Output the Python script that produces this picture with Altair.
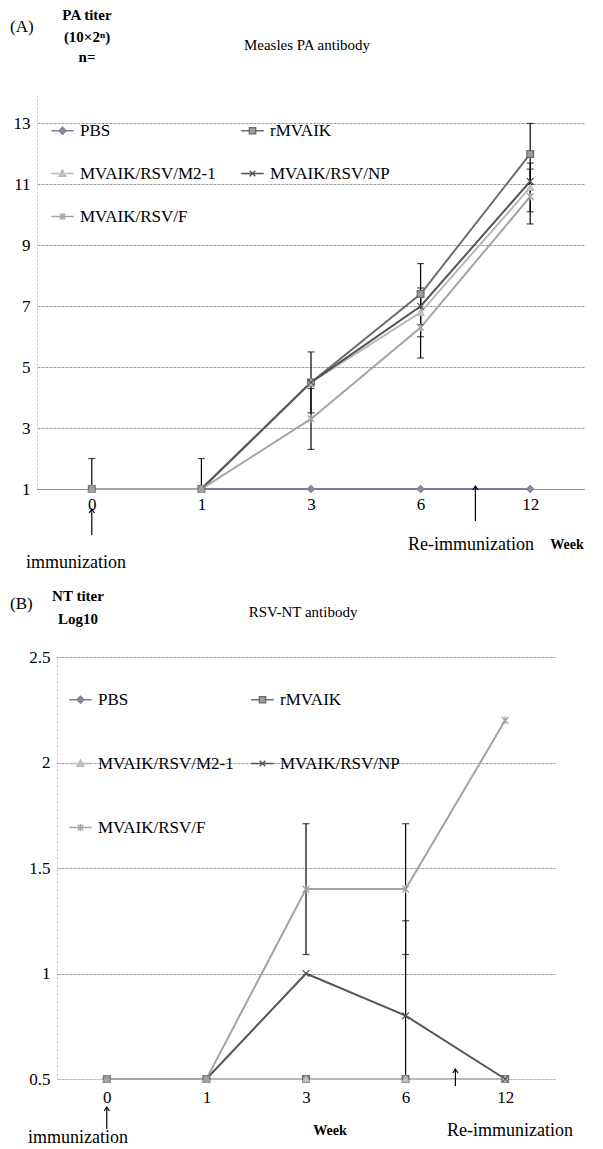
import altair as alt
import pandas as pd

FONT = "Liberation Serif"

weeks = ["0", "1", "3", "6", "12"]
series = ["PBS", "rMVAIK", "MVAIK/RSV/M2-1", "MVAIK/RSV/NP", "MVAIK/RSV/F"]

# Panel A: Measles PA antibody (PA titer = 10x2^n)
pa_pbs = [1, 1, 1, 1, 1]
pa_rmvaik = [1, 1, 4.5, 7.4, 12.0]
pa_m21 = [1, 1, 4.5, 6.8, 10.9]
pa_np = [1, 1, 4.5, 7.0, 11.1]
pa_f = [1, 1, 3.3, 6.3, 10.6]
pa_sd_pbs = [0, 0, 0, 0, 0]
pa_sd_rmvaik = [1, 1, 1, 1, 1]
pa_sd_m21 = [0, 0, 0, 0.8, 0.8]
pa_sd_np = [0, 0, 0, 0, 0]
pa_sd_f = [0, 0, 1, 1, 0.9]
pa_ticks = [1, 3, 5, 7, 9, 11, 13]

# Panel B: RSV-NT antibody (NT titer, Log10)
nt_pbs = [0.5, 0.5, 0.5, 0.5, 0.5]
nt_rmvaik = [0.5, 0.5, 0.5, 0.5, 0.5]
nt_m21 = [0.5, 0.5, 0.5, 0.5, 0.5]
nt_np = [0.5, 0.5, 1.0, 0.8, 0.5]
nt_f = [0.5, 0.5, 1.4, 1.4, 2.2]
nt_sd_pbs = [0, 0, 0, 0, 0]
nt_sd_rmvaik = [0, 0, 0, 0, 0]
nt_sd_m21 = [0, 0, 0, 0, 0]
nt_sd_np = [0, 0, 0, 0.45, 0]
nt_sd_f = [0, 0, 0.31, 0.31, 0]
nt_ticks = [0.5, 1, 1.5, 2, 2.5]

line_colors = ["#7c8096", "#6c6c6c", "#b8b8b8", "#555555", "#a4a4a4"]
marker_fills = ["#8a8ea4", "#9c9c9c", "#c6c6c6", "#555555", "#a4a4a4"]
X_PATH = "M-1,-1L1,1M-1,1L1,-1"
STAR_PATH = "M-1,-1L1,1M-1,1L1,-1M0,-1.2L0,1.2"
plot_shapes = ["diamond", "square", "triangle-up", X_PATH, STAR_PATH]
legend_shapes = [
    "M-3.2,0L-1,0M1,0L3.2,0M0,-1L1,0L0,1L-1,0Z",
    "M-3.2,0L-0.9,0M0.9,0L3.2,0M-0.9,-0.9L0.9,-0.9L0.9,0.9L-0.9,0.9Z",
    "M-3.2,0L-1,0M1,0L3.2,0M0,-1L1,0.8L-1,0.8Z",
    "M-3.2,0L3.2,0M-0.8,-0.8L0.8,0.8M-0.8,0.8L0.8,-0.8",
    "M-3.2,0L3.2,0M-0.8,-0.8L0.8,0.8M-0.8,0.8L0.8,-0.8M0,-1L0,1",
]

label_expr = "[" + ",".join("'%s'" % w for w in weeks) + "][datum.value]"
one = pd.DataFrame({"k": [0]})


def build_df(vals, sds):
    rows = []
    for s, v, sd in zip(series, vals, sds):
        for i, (w, y) in enumerate(zip(weeks, v)):
            rows.append({"idx": i, "week": w, "series": s, "value": y,
                         "sd": sd[i], "lo": y - sd[i], "hi": y + sd[i]})
    return pd.DataFrame(rows)


def text(t, x, y, size=17, bold=False, align="center"):
    return alt.Chart(one).mark_text(
        text=t, font=FONT, fontSize=size, fontWeight="bold" if bold else "normal",
        align=align, baseline="middle", color="black"
    ).encode(x=x, y=y)


def arrow(xd, y_tip, y_tail):
    shaft = alt.Chart(one).mark_rule(color="black", strokeWidth=1.2).encode(
        x=alt.datum(xd), y=alt.value(y_tip), y2=alt.value(y_tail))
    head = alt.Chart(one).mark_point(
        shape="M-1,1.5L0,0L1,1.5", filled=False, size=28, color="black",
        strokeWidth=1.2, opacity=1).encode(x=alt.datum(xd), y=alt.value(y_tip))
    return [shaft, head]


def panel(vals, sds, ydom, yticks, w, h, xrange, yoffset, xdom_color, xdom_dash, yfmt,
          lpad, leg, extras):
    df = build_df(vals, sds)
    err = df[df["sd"] > 0]
    xaxis = alt.Axis(values=list(range(len(weeks))), labelExpr=label_expr, title=None,
                     grid=False, ticks=False, domainColor=xdom_color, domainDash=xdom_dash,
                     domainWidth=1.2, labelFont=FONT, labelFontSize=17, labelColor="black",
                     labelPadding=lpad)
    yaxis = alt.Axis(values=yticks, title=None, grid=True, gridColor="#9c9c9c",
                     gridDash=[3, 1], gridWidth=1, ticks=False, domainColor="#c4c4c4",
                     domainDash=[2, 2], labelFont=FONT, labelFontSize=17, labelColor="black",
                     labelPadding=7, format=yfmt, offset=yoffset)
    xs = alt.Scale(domain=[-0.5, len(weeks) - 0.5], range=xrange, nice=False, zero=False)
    ysc = alt.Scale(domain=ydom, nice=False, zero=False)
    X = alt.X("idx:Q", scale=xs, axis=xaxis)
    Y = alt.Y("value:Q", scale=ysc, axis=yaxis)

    lines = alt.Chart(df).mark_line(strokeWidth=2).encode(
        x=X, y=Y,
        color=alt.Color("series:N", scale=alt.Scale(domain=series, range=line_colors), legend=None),
        detail="series:N")
    rules = alt.Chart(err).mark_rule(color="black", strokeWidth=1.2, clip=True).encode(
        x=alt.X("idx:Q"), y=alt.Y("lo:Q"), y2="hi:Q")
    cap_lo = alt.Chart(err).mark_tick(color="black", orient="horizontal", size=7,
                                      thickness=1.2, clip=True).encode(
        x=alt.X("idx:Q"), y=alt.Y("lo:Q"))
    cap_hi = alt.Chart(err).mark_tick(color="black", orient="horizontal", size=7,
                                      thickness=1.2, clip=True).encode(
        x=alt.X("idx:Q"), y=alt.Y("hi:Q"))
    points = alt.Chart(df).mark_point(filled=True, size=45, strokeWidth=1.3, opacity=1).encode(
        x=X, y=Y,
        fill=alt.Fill("series:N", scale=alt.Scale(domain=series, range=marker_fills), legend=None),
        stroke=alt.Stroke("series:N", scale=alt.Scale(domain=series, range=line_colors), legend=None),
        shape=alt.Shape("series:N", scale=alt.Scale(domain=series, range=plot_shapes), legend=None))

    lg = alt.Legend(orient="none", legendX=leg["x"], legendY=leg["y"], columns=2,
                    direction="horizontal",
                    columnPadding=leg["colpad"], rowPadding=leg["rowpad"], title=None,
                    labelFont=FONT, labelFontSize=17, labelColor="black",
                    symbolSize=49, symbolStrokeWidth=1.4, labelOffset=9, padding=0)
    legend_layer = alt.Chart(df).transform_filter("false").mark_point(
        filled=True, size=49, strokeWidth=1.4, opacity=1).encode(
        fill=alt.Fill("series:N", scale=alt.Scale(domain=series, range=marker_fills), legend=lg),
        stroke=alt.Stroke("series:N", scale=alt.Scale(domain=series, range=line_colors), legend=lg),
        shape=alt.Shape("series:N", scale=alt.Scale(domain=series, range=legend_shapes), legend=lg))

    layers = [lines, rules, cap_lo, cap_hi, points, legend_layer] + extras
    return alt.layer(*layers).resolve_scale(
        fill="independent", stroke="independent", shape="independent"
    ).properties(width=w, height=h)


HA = 396
extras_a = [
    text("(A)", alt.value(-27), alt.value(-66), 17, False, "left"),
    text("PA titer", alt.value(50), alt.value(-78), 15, True),
    text("(10×2ⁿ)", alt.value(50), alt.value(-56), 15, True),
    text("n=", alt.value(50), alt.value(-36), 15, True),
    text("Measles PA antibody", alt.value(270), alt.value(-48), 15),
    *arrow(0, HA + 20, HA + 46),
    *arrow(3.5, HA - 3, HA + 32),
    text("immunization", alt.value(39), alt.value(HA + 74), 18),
    text("Re-immunization", alt.value(434), alt.value(HA + 56), 18),
    text("Week", alt.value(530), alt.value(HA + 56), 14, True),
]
chart_a = panel([pa_pbs, pa_rmvaik, pa_m21, pa_np, pa_f],
                [pa_sd_pbs, pa_sd_rmvaik, pa_sd_m21, pa_sd_np, pa_sd_f],
                [1, 14], pa_ticks, 548, HA, [0, 548], 0, "#8c8c8c", [1, 0], "d", 7,
                {"x": 17, "y": 29, "colpad": 22, "rowpad": 25}, extras_a)

HB = 422
extras_b = [
    text("(B)", alt.value(-27), alt.value(-53), 17, False, "left"),
    text("NT titer", alt.value(41), alt.value(-61), 15, True),
    text("Log10", alt.value(41), alt.value(-38), 15, True),
    text("RSV-NT antibody", alt.value(266), alt.value(-45), 15),
    *arrow(0, HB + 28, HB + 50),
    *arrow(3.5, HB - 10, HB + 7),
    text("immunization", alt.value(41), alt.value(HB + 59), 18),
    text("Re-immunization", alt.value(473), alt.value(HB + 52), 18),
    text("Week", alt.value(293), alt.value(HB + 52), 14, True),
]
chart_b = panel([nt_pbs, nt_rmvaik, nt_m21, nt_np, nt_f],
                [nt_sd_pbs, nt_sd_rmvaik, nt_sd_m21, nt_sd_np, nt_sd_f],
                [0.5, 2.5], nt_ticks, 518, HB, [20, 518], -20, "#c4c4c4", [2, 2], "~g", 10,
                {"x": 35, "y": 34, "colpad": 14, "rowpad": 46}, extras_b)

chart = alt.concat(chart_a, chart_b, columns=1, spacing=17).configure_view(
    stroke=None).properties(padding={"left": 2, "top": 0, "right": 0, "bottom": 0})

chart.save("out.html", embed_options={"renderer": "svg", "actions": False})
